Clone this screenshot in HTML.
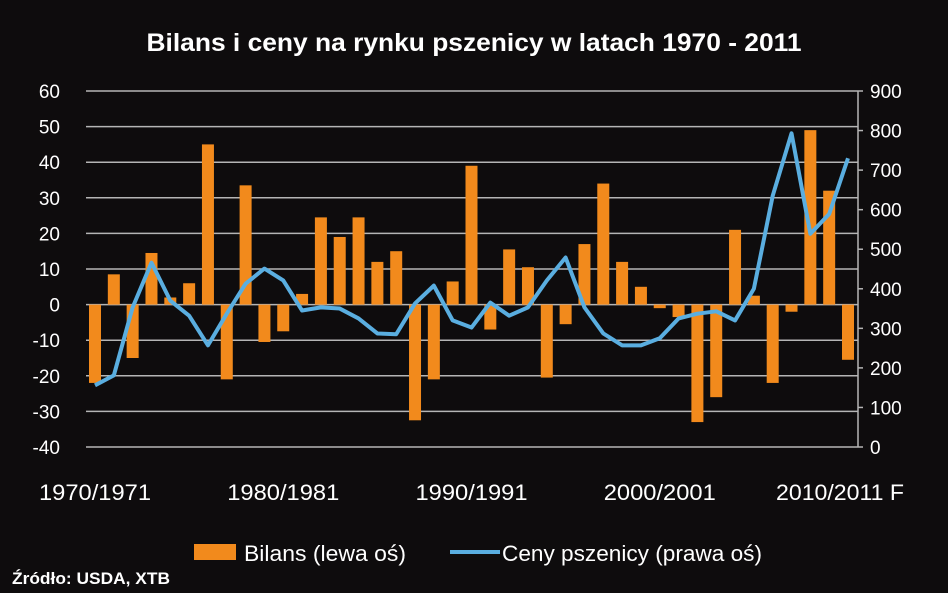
<!DOCTYPE html>
<html><head><meta charset="utf-8"><style>
html,body{margin:0;padding:0;background:#0e0c0d;}
svg{display:block;font-family:"Liberation Sans",sans-serif;}
</style></head><body>
<svg id="chart" width="948" height="593" viewBox="0 0 948 593" xmlns="http://www.w3.org/2000/svg">
<rect width="948" height="593" fill="#0e0c0d"/>
<text x="474" y="51" text-anchor="middle" fill="#fff" font-size="25" font-weight="bold" textLength="655" lengthAdjust="spacingAndGlyphs">Bilans i ceny na rynku pszenicy w latach 1970 - 2011</text>
<g id="grid"></g><g id="bars"></g><g id="line"></g><g id="axes"></g>
<g>
<rect x="194" y="544" width="42" height="16" fill="#f28a1c"/>
<text x="244" y="561" fill="#fff" font-size="22" textLength="162" lengthAdjust="spacingAndGlyphs">Bilans (lewa oś)</text>
<line x1="450" y1="552" x2="500" y2="552" stroke="#5aaee0" stroke-width="4"/>
<text x="502" y="561" fill="#fff" font-size="22" textLength="260" lengthAdjust="spacingAndGlyphs">Ceny pszenicy (prawa oś)</text>
</g>
<text x="12" y="584" fill="#fff" font-size="17" font-weight="bold" textLength="158" lengthAdjust="spacingAndGlyphs">Źródło: USDA, XTB</text>
</svg>
<script>
const years = [1970,1971,1972,1973,1974,1975,1976,1977,1978,1979,1980,1981,1982,1983,1984,1985,1986,1987,1988,1989,1990,1991,1992,1993,1994,1995,1996,1997,1998,1999,2000,2001,2002,2003,2004,2005,2006,2007,2008,2009,2010];
const bilans = [-22,8.5,-15,14.5,2,6,45,-21,33.5,-10.5,-7.5,3,24.5,19,24.5,12,15,-32.5,-21,6.5,39,-7,15.5,10.5,-20.5,-5.5,17,34,12,5,-1,-3.5,-33,-26,21,2.5,-22,-2,49,32,-15.5];
const ceny = [156,181,353,466,370,332,257,337,413,451,421,345,353,350,325,287,285,363,408,320,302,365,332,353,421,479,353,287,257,257,275,325,337,343,320,400,635,793,539,589,730];
const leftTicks = [60,50,40,30,20,10,0,-10,-20,-30,-40];
const rightTicks = [900,800,700,600,500,400,300,200,100,0];
const xLabels = ["1970/1971","1980/1981","1990/1991","2000/2001","2010/2011 F"];
const xLabelIdx = [0,10,20,30,40];

const NS="http://www.w3.org/2000/svg";
const X0=86,X1=858,TOP=91,BOT=447;
const yL=v=>TOP+(60-v)/100*(BOT-TOP);
const yR=v=>BOT-v/900*(BOT-TOP);
const step=(848-95)/(years.length-1);
const xC=i=>95+i*step;
function mk(t,a,p){const e=document.createElementNS(NS,t);for(const k in a)e.setAttribute(k,a[k]);p.appendChild(e);return e;}
const grid=document.getElementById('grid'),bars=document.getElementById('bars'),line=document.getElementById('line'),axes=document.getElementById('axes');
leftTicks.forEach(v=>{
  const l=mk('line',{x1:X0,x2:X1,y1:yL(v),y2:yL(v),stroke:'#b5b5b5','stroke-width':1.5},grid);
  
  
  const t=mk('text',{x:60,y:yL(v)+7,'text-anchor':'end',fill:'#fff','font-size':19},axes);
  t.textContent=v;
  
  
});
rightTicks.forEach(v=>{
  const t=mk('text',{x:870,y:yR(v)+7,fill:'#fff','font-size':19},axes);
  t.textContent=v;
  
  
  const k=mk('line',{x1:X1,x2:X1+5,y1:yR(v),y2:yR(v),stroke:'#b5b5b5','stroke-width':1.5},axes);
  
  
});
const ax=mk('line',{x1:X1,x2:X1,y1:TOP,y2:BOT,stroke:'#b5b5b5','stroke-width':1.5},axes);


xLabels.forEach((s,j)=>{
  const t=mk('text',{x:xC(xLabelIdx[j])+(j==4?-8:0),y:500,'text-anchor':'middle',fill:'#fff','font-size':22,textLength:j==4?128:112,lengthAdjust:'spacingAndGlyphs'},axes);
  t.textContent=s;
  
  
});
bilans.forEach((v,i)=>{
  const y0=yL(0),y1=yL(v);
  const r=mk('rect',{x:xC(i)-6,y:Math.min(y0,y1),width:12,height:Math.abs(y1-y0),fill:'#f28a1c'},bars);
  
  
});
const pl=mk('polyline',{points:ceny.map((v,i)=>xC(i)+','+yR(v)).join(' '),fill:'none',stroke:'#5aaee0','stroke-width':4,'stroke-linejoin':'round'},line);


</script>
</body></html>
